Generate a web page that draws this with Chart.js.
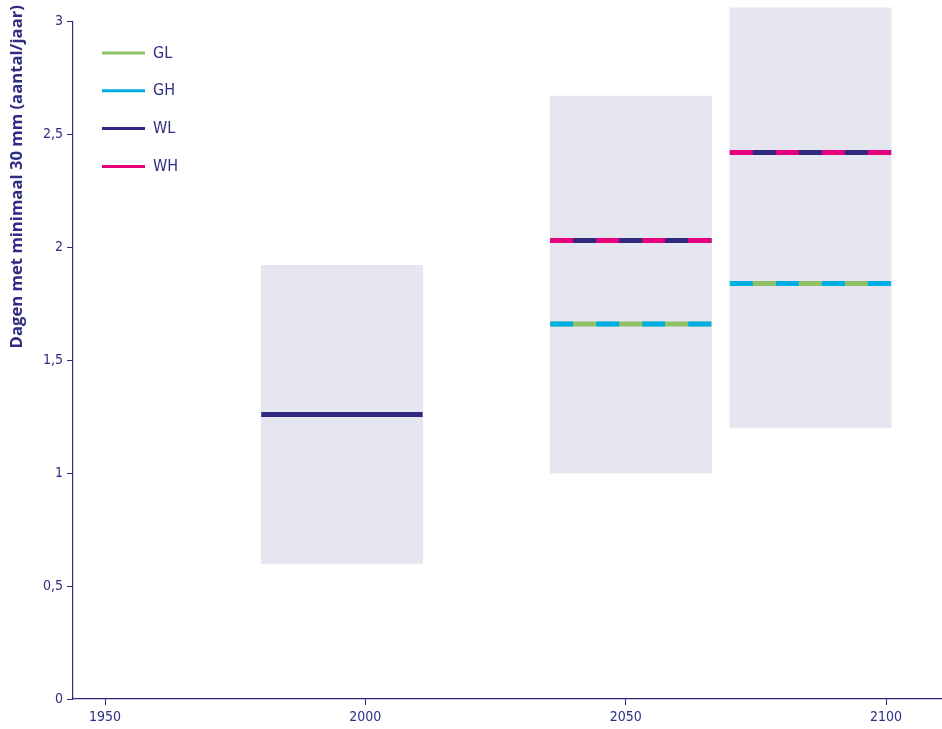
<!DOCTYPE html>
<html><head><meta charset="utf-8">
<script src="https://cdn.jsdelivr.net/npm/chart.js@4/dist/chart.umd.min.js"></script>
<style>html,body{margin:0;padding:0;background:#fff}#wrap{width:942px;height:729px;position:relative}</style>
</head><body><div id="wrap"><canvas id="c" width="942" height="729"></canvas></div>
<script>
// ---- data ----
const periodStart = [1980, 2035.5, 2070];
const periodEnd   = [2011, 2066.5, 2101];
const bandLow  = [0.6, 1.0, 1.2];
const bandHigh = [1.92, 2.67, 3.06];
const seriesNames = ['GL', 'GH', 'WL', 'WH'];
const GL = [null, 1.66, 1.84];
const GH = [null, 1.66, 1.84];
const WL = [1.26, 2.03, 2.42];
const WH = [null, 2.03, 2.42];
const xTicks = [1950, 2000, 2050, 2100];
const yTicks = [0, 0.5, 1, 1.5, 2, 2.5, 3];
const yTitle = 'Dagen met minimaal 30 mm (aantal/jaar)';

// ---- styles ----
const NAVY = '#2f2a80';
const TEXT = '#2f2d82';
const COLORS = { GL: '#8fc264', GH: '#00aee6', WL: '#2f2a80', WH: '#e5007d' };
const BAND = '#e5e6f0';
const TICK_FONT = { family: '"DejaVu Sans Condensed", "DejaVu Sans", sans-serif', size: 14 };

const seriesValues = { GL, GH, WL, WH };

const datasets = [];
// bands (floating bars)
periodStart.forEach((s, i) => {
  datasets.push({
    type: 'bar',
    data: [{ x: (s + periodEnd[i]) / 2, y: [bandLow[i], bandHigh[i]] }],
    backgroundColor: BAND,
    borderWidth: 0,
    grouped: false,
    clip: false,
    order: 10,
    barThickness: (ctx) => {
      const sc = ctx.chart.scales && ctx.chart.scales.x;
      if (!sc) return 100;
      return Math.abs(sc.getPixelForValue(periodEnd[i]) - sc.getPixelForValue(s));
    }
  });
});
// lines: solid underneath (GL, WL), dashed on top (GH, WH)
const lineSpec = [
  { name: 'GL', dashed: false, order: 3 },
  { name: 'WL', dashed: false, order: 3 },
  { name: 'GH', dashed: true, order: 1 },
  { name: 'WH', dashed: true, order: 1 }
];
lineSpec.forEach(spec => {
  seriesValues[spec.name].forEach((v, i) => {
    if (v === null) return;
    datasets.push({
      type: 'line',
      label: spec.name,
      data: [{ x: periodStart[i], y: v }, { x: periodEnd[i], y: v }],
      borderColor: COLORS[spec.name],
      borderWidth: 5,
      borderCapStyle: 'butt',
      borderDash: spec.dashed ? [23, 23] : [],
      pointRadius: 0,
      fill: false,
      order: spec.order,
      clip: false
    });
  });
});

const legendPlugin = {
  id: 'seriesLegend',
  afterDatasetsDraw(chart) {
    const { ctx, chartArea } = chart;
    ctx.save();
    seriesNames.forEach((name, i) => {
      const y = chartArea.top + 31.5 + i * 37.8;
      const x0 = chartArea.left + 29;
      ctx.strokeStyle = COLORS[name];
      ctx.lineWidth = 3;
      ctx.beginPath(); ctx.moveTo(x0, y); ctx.lineTo(x0 + 43, y); ctx.stroke();
      ctx.fillStyle = TEXT;
      ctx.font = '16px "DejaVu Sans Condensed", "DejaVu Sans", sans-serif';
      ctx.textBaseline = 'middle';
      ctx.textAlign = 'left';
      ctx.fillText(name, x0 + 51, y + 0.5);
    });
    ctx.restore();
  }
};

new Chart(document.getElementById('c'), {
  type: 'bar',
  data: { datasets },
  plugins: [legendPlugin],
  options: {
    responsive: false,
    animation: false,
    events: [],
    layout: { padding: { top: 5, left: 0, right: 0, bottom: 0 } },
    plugins: {
      legend: { display: false },
      tooltip: { enabled: false },
      title: {
        display: true, text: yTitle, position: 'left', align: 'end',
        color: TEXT, font: { family: '"Open Sans", sans-serif', size: 16.7, weight: 'bold', lineHeight: 1.2 },
        padding: { top: 7.5, bottom: 0 }
      },
      subtitle: {
        display: true, text: ' ', position: 'top',
        font: { size: 1, lineHeight: 1 }, padding: { top: 0, bottom: 15.5 }
      }
    },
    scales: {
      x: {
        type: 'linear', min: 1943.85, max: 2110.75, offset: false,
        afterBuildTicks: (s) => { s.ticks = xTicks.map(v => ({ value: v })); },
        afterFit: (s) => { s.height = 30; s.paddingRight = 0; },
        grid: { offset: false, drawOnChartArea: false, drawTicks: true, tickLength: 6, color: NAVY, lineWidth: 1 },
        border: { display: true, color: NAVY, width: 1.2 },
        ticks: { color: TEXT, font: TICK_FONT, padding: 4, maxRotation: 0, autoSkip: false, callback: (v) => String(v) }
      },
      y: {
        type: 'linear', min: 0, max: 3,
        afterBuildTicks: (s) => { s.ticks = yTicks.map(v => ({ value: v })); },
        afterFit: (s) => { const tb = s.chart.titleBlock; s.width = 73 - (tb ? tb.width : 27.5); },
        grid: { drawOnChartArea: false, drawTicks: true, tickLength: 6, color: NAVY, lineWidth: 1 },
        border: { display: true, color: NAVY, width: 1.2 },
        ticks: { color: TEXT, font: TICK_FONT, padding: 4, callback: (v) => String(v).replace('.', ',') }
      }
    }
  }
});
</script>
</body></html>
